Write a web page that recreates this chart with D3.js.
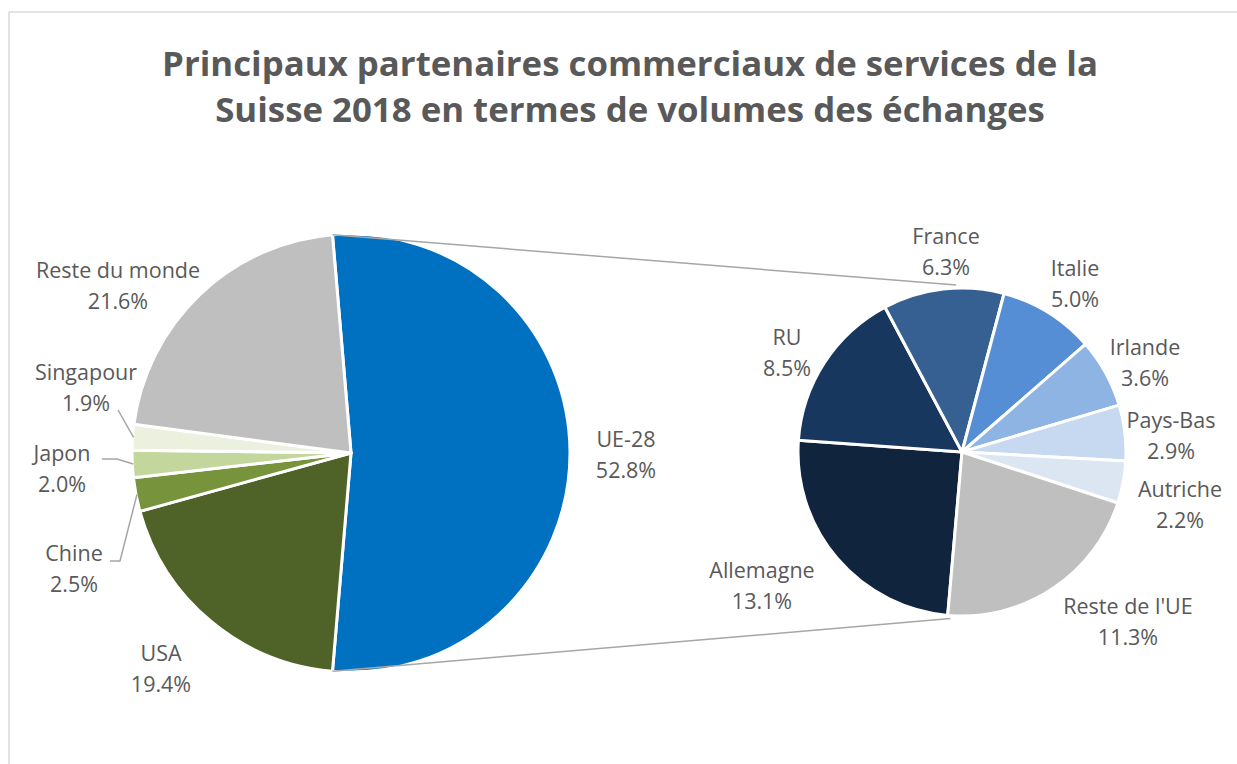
<!DOCTYPE html>
<html><head><meta charset="utf-8">
<script src="https://cdn.jsdelivr.net/npm/d3@7"></script>
<style>
html,body{margin:0;padding:0;background:#fff;}
svg{display:block;font-family:"Open Sans","Noto Sans",sans-serif;}
</style></head>
<body>
<svg id="chart" width="1237" height="764"></svg>
<script>
// ---- data ----
const mainCategories = ["UE-28","USA","Chine","Japon","Singapour","Reste du monde"];
const mainValues     = [52.8, 19.4, 2.5, 2.0, 1.9, 21.6];
const subCategories  = ["Allemagne","RU","France","Italie","Irlande","Pays-Bas","Autriche","Reste de l'UE"];
const subValues      = [13.1, 8.5, 6.3, 5.0, 3.6, 2.9, 2.2, 11.3];
const titleLines = ["Principaux partenaires commerciaux de services de la",
                    "Suisse 2018 en termes de volumes des échanges"];

// ---- styles / layout ----
const mainColors = ["#0070C0","#4F6228","#77933C","#C3D69B","#EBF1DE","#BFBFBF"];
const subColors  = ["#10243E","#17375E","#376092","#558ED5","#8EB4E3","#C6D9F1","#DCE6F2","#BFBFBF"];
const textColor = "#595959";
const C1 = {x:351, y:453, r:219};
const C2 = {x:962, y:452, r:164};
// label block centres (x, y of first line middle), relative to pie centre
const mainLabelPos = {
  "UE-28":[275,-14], "USA":[-190,200], "Chine":[-277,100], "Japon":[-289,0],
  "Singapour":[-265,-81], "Reste du monde":[-233,-183]
};
const subLabelPos = {
  "Allemagne":[-200,118], "RU":[-175,-115], "France":[-16,-216], "Italie":[113,-184],
  "Irlande":[183,-105], "Pays-Bas":[209,-32], "Autriche":[218,37], "Reste de l'UE":[166,154]
};
// leader line elbows for small slices (label-side points)
const leaderPts = {
  "Singapour":[[-233,-43]],
  "Japon":[[-249,6],[-234,6]],
  "Chine":[[-241,108],[-231,108]]
};

const svg = d3.select("#chart");
const deg = Math.PI/180;

// frame
svg.append("line").attr("x1",9).attr("y1",12).attr("x2",1237).attr("y2",12)
  .attr("stroke","#D9D9D9").attr("stroke-width",1.5);
svg.append("line").attr("x1",9).attr("y1",12).attr("x2",9).attr("y2",764)
  .attr("stroke","#D9D9D9").attr("stroke-width",1.5);

// title
svg.append("text").attr("x",630).attr("y",76).attr("text-anchor","middle")
  .attr("fill",textColor).attr("font-weight","bold").attr("font-size",34.8)
  .selectAll("tspan").data(titleLines).join("tspan")
  .attr("x",630).attr("dy",(d,i)=>i?46:0).text(d=>d);

// main pie
const ueShare = mainValues[0]/d3.sum(mainValues)*360;
const start1 = (90 - ueShare/2)*deg;
const pie1 = d3.pie().sort(null).value(d=>d.v).startAngle(start1).endAngle(start1+2*Math.PI);
const arcs1 = pie1(mainCategories.map((c,i)=>({c, v:mainValues[i], col:mainColors[i]})));
const arc1 = d3.arc().innerRadius(0).outerRadius(C1.r);
const g1 = svg.append("g").attr("transform",`translate(${C1.x},${C1.y})`);
g1.selectAll("path").data(arcs1).join("path")
  .attr("d",arc1).attr("fill",d=>d.data.col)
  .attr("stroke","#fff").attr("stroke-width",3).attr("stroke-linejoin","round");

// sub pie
const start2 = 185*deg;
const pie2 = d3.pie().sort(null).value(d=>d.v).startAngle(start2).endAngle(start2+2*Math.PI);
const arcs2 = pie2(subCategories.map((c,i)=>({c, v:subValues[i], col:subColors[i]})));
const arc2 = d3.arc().innerRadius(0).outerRadius(C2.r);
const g2 = svg.append("g").attr("transform",`translate(${C2.x},${C2.y})`);
g2.selectAll("path").data(arcs2).join("path")
  .attr("d",arc2).attr("fill",d=>d.data.col)
  .attr("stroke","#fff").attr("stroke-width",3).attr("stroke-linejoin","round");

// connector lines
const ue = arcs1[0];
const pt = (c,a,r)=>[c.x + r*Math.sin(a), c.y - r*Math.cos(a)];
const topA = pt(C1, ue.startAngle, C1.r), botA = pt(C1, ue.endAngle, C1.r);
const topB = pt(C2, -2*deg, C2.r+3), botB = pt(C2, 184*deg, C2.r+3);
[[topA,topB],[botA,botB]].forEach(([a,b])=>{
  svg.append("line").attr("x1",a[0]).attr("y1",a[1]).attr("x2",b[0]).attr("y2",b[1])
    .attr("stroke","#A6A6A6").attr("stroke-width",1.5);
});

// leader lines
arcs1.forEach(d=>{
  const lp = leaderPts[d.data.c];
  if(!lp) return;
  const mid = (d.startAngle+d.endAngle)/2;
  const e = pt({x:0,y:0}, mid, C1.r-1);
  const pts = lp.concat([e]);
  g1.append("path").attr("d",d3.line()(pts)).attr("fill","none")
    .attr("stroke","#A6A6A6").attr("stroke-width",1.5);
});

// labels
function addLabel(g, name, val, pos){
  const t = g.append("text").attr("text-anchor","middle").attr("fill",textColor)
    .attr("font-size",21.5);
  t.append("tspan").attr("x",pos[0]).attr("y",pos[1]+8).text(name);
  t.append("tspan").attr("x",pos[0]).attr("y",pos[1]+39).text(val.toFixed(1)+"%");
}
arcs1.forEach(d=>addLabel(g1, d.data.c, d.data.v, mainLabelPos[d.data.c]));
arcs2.forEach(d=>addLabel(g2, d.data.c, d.data.v, subLabelPos[d.data.c]));
</script>
</body></html>
